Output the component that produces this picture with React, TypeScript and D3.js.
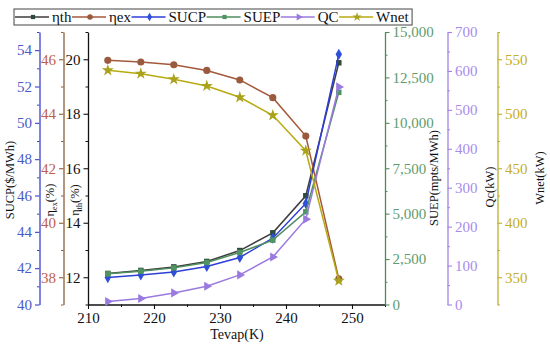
import React, { useEffect, useRef } from 'react';
import * as d3 from 'd3';

// evaporator temperature (K)
const tevap = [213, 218, 223, 228, 233, 238, 243, 248];

// series
const etaTh = [12.14, 12.25, 12.38, 12.58, 12.98, 13.63, 14.99, 19.87];
const etaEx = [45.96, 45.9, 45.8, 45.59, 45.24, 44.59, 43.18, 37.94];
const sucp = [41.48, 41.63, 41.79, 42.09, 42.59, 43.65, 45.56, 53.77];
const suep = [1686, 1835, 2016, 2314, 2865, 3543, 5102, 11680];
const qc = [7.7, 15.4, 29.8, 47, 76, 122, 219, 559];
const wnet = [539.9, 536.8, 531.6, 525.5, 515.1, 498.6, 466.1, 346.8];

const legendNames = ['ηth', 'ηex', 'SUCP', 'SUEP', 'QC', 'Wnet'];

const FONT = "Liberation Serif, DejaVu Serif, serif";

const App = () => {
  const ref = useRef<SVGSVGElement>(null);

  useEffect(() => {
    const svg = d3.select(ref.current);
    svg.selectAll('*').remove();

    const left = 88;
    const right = 385;
    const top = 32;
    const bottom = 304.5;

    const x = d3.scaleLinear().domain([210, 255]).range([left, right]);
    const yTh = d3.scaleLinear().domain([11, 21]).range([bottom, top]);
    const yEx = d3.scaleLinear().domain([37, 47]).range([bottom, top]);
    const ySucp = d3.scaleLinear().domain([40, 55]).range([bottom, top]);
    const ySuep = d3.scaleLinear().domain([0, 15000]).range([bottom, top]);
    const yQc = d3.scaleLinear().domain([0, 700]).range([bottom, top]);
    const yW = d3.scaleLinear().domain([325, 575]).range([bottom, top]);

    // draws a major + minor axis pair
    const drawAxis = (opts) => {
      const { scale, side, pos, major, minor, color, labelColor, fmt } = opts;
      const mk = side === 'left' ? d3.axisLeft : side === 'right' ? d3.axisRight : d3.axisBottom;
      const tr = side === 'bottom' ? `translate(0,${pos})` : `translate(${pos},0)`;
      const gMinor = svg.append('g').attr('transform', tr)
        .call(mk(scale).tickValues(minor).tickFormat(() => '').tickSize(2.5).tickSizeOuter(0));
      gMinor.selectAll('line').attr('stroke', color);
      gMinor.select('.domain').remove();
      const g = svg.append('g').attr('transform', tr)
        .call(mk(scale).tickValues(major).tickFormat(fmt || ((d) => d)).tickSize(4.5).tickSizeOuter(0).tickPadding(3));
      g.attr('font-family', FONT).attr('font-size', 15);
      g.select('.domain').attr('stroke', color).attr('stroke-width', 1.3);
      g.selectAll('line').attr('stroke', color).attr('stroke-width', 1.1);
      g.selectAll('text').attr('fill', labelColor);
      return g;
    };

    drawAxis({ scale: ySucp, side: 'left', pos: 39.5, major: d3.range(40, 55, 2), minor: d3.range(41, 56, 2), color: '#3a42cf', labelColor: '#4b5bc6' });
    drawAxis({ scale: yEx, side: 'left', pos: 63.5, major: d3.range(38, 47, 2), minor: d3.range(37, 48, 2), color: '#8b5e3c', labelColor: '#c0604a' });
    drawAxis({ scale: yTh, side: 'left', pos: left, major: d3.range(12, 21, 2), minor: d3.range(11, 22, 2), color: '#111', labelColor: '#111' });
    drawAxis({ scale: x, side: 'bottom', pos: bottom, major: d3.range(210, 251, 10), minor: d3.range(215, 256, 10), color: '#111', labelColor: '#111' });
    drawAxis({ scale: ySuep, side: 'right', pos: right, major: d3.range(0, 15001, 2500), minor: d3.range(1250, 15000, 2500), color: '#4f8a55', labelColor: '#5e9c6c', fmt: d3.format(',') });
    drawAxis({ scale: yQc, side: 'right', pos: 447.5, major: d3.range(0, 701, 100), minor: d3.range(50, 700, 100), color: '#a184e2', labelColor: '#a88ceb' });
    drawAxis({ scale: yW, side: 'right', pos: 497.5, major: d3.range(350, 551, 50), minor: d3.range(325, 576, 50), color: '#bfae2a', labelColor: '#c4ae26' });

    // axis titles
    const vTitle = (xp, yp, main, sub, rest) => {
      const t = svg.append('text')
        .attr('transform', `translate(${xp},${yp}) rotate(-90)`)
        .attr('text-anchor', 'middle')
        .attr('font-family', FONT).attr('font-size', 12.5).attr('fill', '#111');
      t.append('tspan').text(main);
      if (sub) {
        t.append('tspan').attr('dy', 3).attr('font-size', 8).text(sub);
        t.append('tspan').attr('dy', -3).text(rest);
      }
    };
    vTitle(14, 180, 'SUCP($/MWh)');
    vTitle(54, 200, 'η', 'ex', '(%)');
    vTitle(79, 200, 'η', 'th', '(%)');
    vTitle(438, 178, 'SUEP(mpts/MWh)');
    vTitle(494, 187, 'Qc(kW)');
    vTitle(544, 178, 'Wnet(kW)');
    svg.append('text').attr('x', 237).attr('y', 339).attr('text-anchor', 'middle')
      .attr('font-family', FONT).attr('font-size', 14).attr('fill', '#111').text('Tevap(K)');

    const series = [
      { vals: etaTh, y: yTh, color: '#3d3d3d', mark: '#2f4a3a', sym: d3.symbolSquare, size: 30, rot: 0 },
      { vals: etaEx, y: yEx, color: '#a4593b', mark: '#9a5a3e', sym: d3.symbolCircle, size: 40, rot: 0 },
      { vals: sucp, y: ySucp, color: '#2e3fd8', mark: '#2e4fd8', sym: d3.symbolDiamond, size: 36, rot: 0 },
      { vals: suep, y: ySuep, color: '#4f8f5e', mark: '#4f9462', sym: d3.symbolSquare, size: 30, rot: 0 },
      { vals: qc, y: yQc, color: '#9a7ae0', mark: '#9a7ae0', sym: d3.symbolTriangle, size: 36, rot: 90 },
      { vals: wnet, y: yW, color: '#b8aa12', mark: '#a9a21a', sym: d3.symbolStar, size: 45, rot: 0 },
    ];

    series.forEach((s) => {
      const line = d3.line<number>().x((d, i) => x(tevap[i])).y((d) => s.y(d));
      svg.append('path').datum(s.vals).attr('d', line)
        .attr('fill', 'none').attr('stroke', s.color).attr('stroke-width', 1.5);
      svg.append('g').selectAll('path').data(s.vals).enter().append('path')
        .attr('d', d3.symbol().type(s.sym).size(s.size))
        .attr('transform', (d, i) => `translate(${x(tevap[i])},${s.y(d)}) rotate(${s.rot})`)
        .attr('fill', s.mark);
    });

    // legend
    const lg = svg.append('g');
    const box = lg.append('rect').attr('x', 14).attr('y', 9).attr('height', 16)
      .attr('fill', 'white').attr('stroke', '#444').attr('stroke-width', 1);
    let cx = 15;
    legendNames.forEach((name, i) => {
      const s = series[i];
      lg.append('line').attr('x1', cx).attr('x2', cx + 34).attr('y1', 17).attr('y2', 17)
        .attr('stroke', s.color).attr('stroke-width', 1.3);
      lg.append('path').attr('d', d3.symbol().type(s.sym).size(s.size * 0.6))
        .attr('transform', `translate(${cx + 18},17) rotate(${s.rot})`).attr('fill', s.mark);
      const t = lg.append('text').attr('x', cx + 37).attr('y', 22)
        .attr('font-family', FONT).attr('font-size', 15).attr('fill', '#111').text(name);
      const w = (t.node() as SVGTextElement).getComputedTextLength();
      cx = cx + 37 + w + 0.5;
    });
    box.attr('width', cx + 3 - 14);
  }, []);

  return (
    <svg ref={ref} width={550} height={346}
      style={{ position: 'absolute', left: 0, top: 0, background: 'white' }} />
  );
};

export default App;
